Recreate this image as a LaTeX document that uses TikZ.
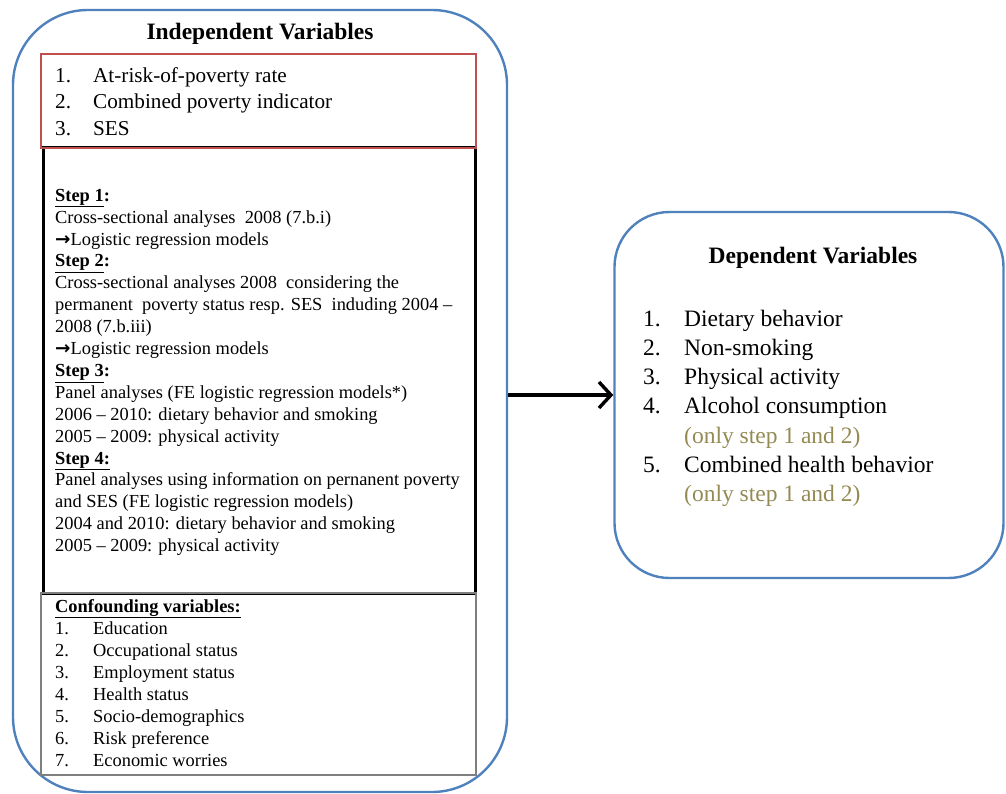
\documentclass[tikz,border=0pt]{standalone}
\usepackage{fontspec}
\setmainfont{Liberation Serif}
\newfontfamily\arrowfont{DejaVu Sans}
\usetikzlibrary{arrows.meta}

\definecolor{frameblue}{HTML}{4F81BD}
\definecolor{framered}{HTML}{C0504D}
\definecolor{framegray}{HTML}{7F7F7F}
\definecolor{noteolive}{HTML}{948A54}

% list helpers: number column of fixed width
\newcommand{\numA}[1]{\makebox[38pt][l]{#1}}
\newcommand{\numB}[1]{\makebox[41pt][l]{#1}}
\newcommand{\stepT}[1]{\textbf{\underline{#1}}}
\newcommand{\implies}{{\arrowfont\bfseries →}}

\begin{document}
\begin{tikzpicture}[x=1pt,y=-1pt,
  roundframe/.style={draw=frameblue, line width=2.4pt, fill=none, inner sep=0pt},
  listtext/.style={anchor=north west, inner sep=0pt, align=left},
  titletext/.style={anchor=base, inner sep=0pt, font=\fontsize{23.5}{28}\selectfont\bfseries}]
\useasboundingbox (0,0) rectangle (1006,794);

% outer frames
\node[roundframe, rounded corners=75pt, minimum width=494pt, minimum height=782pt] (indep) at (260,401) {};
\node[roundframe, rounded corners=55pt, minimum width=389pt, minimum height=366pt] (dep) at (809,395) {};

% inner boxes of the left panel
\draw[black, line width=3pt] (43,148) rectangle (475,593);
\draw[framered, line width=2pt] (41,54) rectangle (476,148);
\draw[framegray, line width=2.2pt] (41,593) rectangle (476,775);

% titles
\node[titletext] (indeptitle) at (260,40) {Independent Variables};
\node[titletext] (deptitle) at (813,264) {Dependent Variables};

% independent variables
\node[listtext, font=\fontsize{21.2}{26.5}\selectfont] (ivlist) at (55,63.45) {%
\strut\numA{1.}At-risk-of-poverty rate\\
\numA{2.}Combined poverty indicator\\
\numA{3.}SES};

% analysis steps
\node[listtext, font=\fontsize{18.4}{21.9}\selectfont] (steps) at (55,185.67) {%
\strut\stepT{Step 1}\textbf{:}\\
Cross-sectional analyses\ \ 2008 (7.b.i)\\
\implies Logistic regression models\\
\stepT{Step 2}\textbf{:}\\
Cross-sectional analyses 2008\ \ considering the\\
permanent\ \ poverty status resp. SES\ \ induding 2004 –\\
2008 (7.b.iii)\\
\implies Logistic regression models\\
\stepT{Step 3}\textbf{:}\\
Panel analyses (FE logistic regression models*)\\
2006 – 2010: dietary behavior and smoking\\
2005 – 2009: physical activity\\
\stepT{Step 4:}\\
Panel analyses using information on pernanent poverty\\
and SES (FE logistic regression models)\\
2004 and 2010: dietary behavior and smoking\\
2005 – 2009: physical activity};

% confounders
\node[listtext, font=\fontsize{18.4}{22}\selectfont] (conf) at (55,596.6) {%
\strut\stepT{Confounding variables:}\\
\numA{1.}Education\\
\numA{2.}Occupational status\\
\numA{3.}Employment status\\
\numA{4.}Health status\\
\numA{5.}Socio-demographics\\
\numA{6.}Risk preference\\
\numA{7.}Economic worries};

% dependent variables
\node[listtext, font=\fontsize{23.5}{29.2}\selectfont] (dvlist) at (643,305.56) {%
\strut\numB{1.}Dietary behavior\\
\numB{2.}Non-smoking\\
\numB{3.}Physical activity\\
\numB{4.}Alcohol consumption\\
\numB{}\textcolor{noteolive}{(only step 1 and 2)}\\
\numB{5.}Combined health behavior\\
\numB{}\textcolor{noteolive}{(only step 1 and 2)}};

% connector
\draw[line width=3.4pt, -{Straight Barb[length=12pt,width=26pt,line width=3.4pt]}]
  (dep.west -| indep.east) -- (dep.west);
\end{tikzpicture}
\end{document}
